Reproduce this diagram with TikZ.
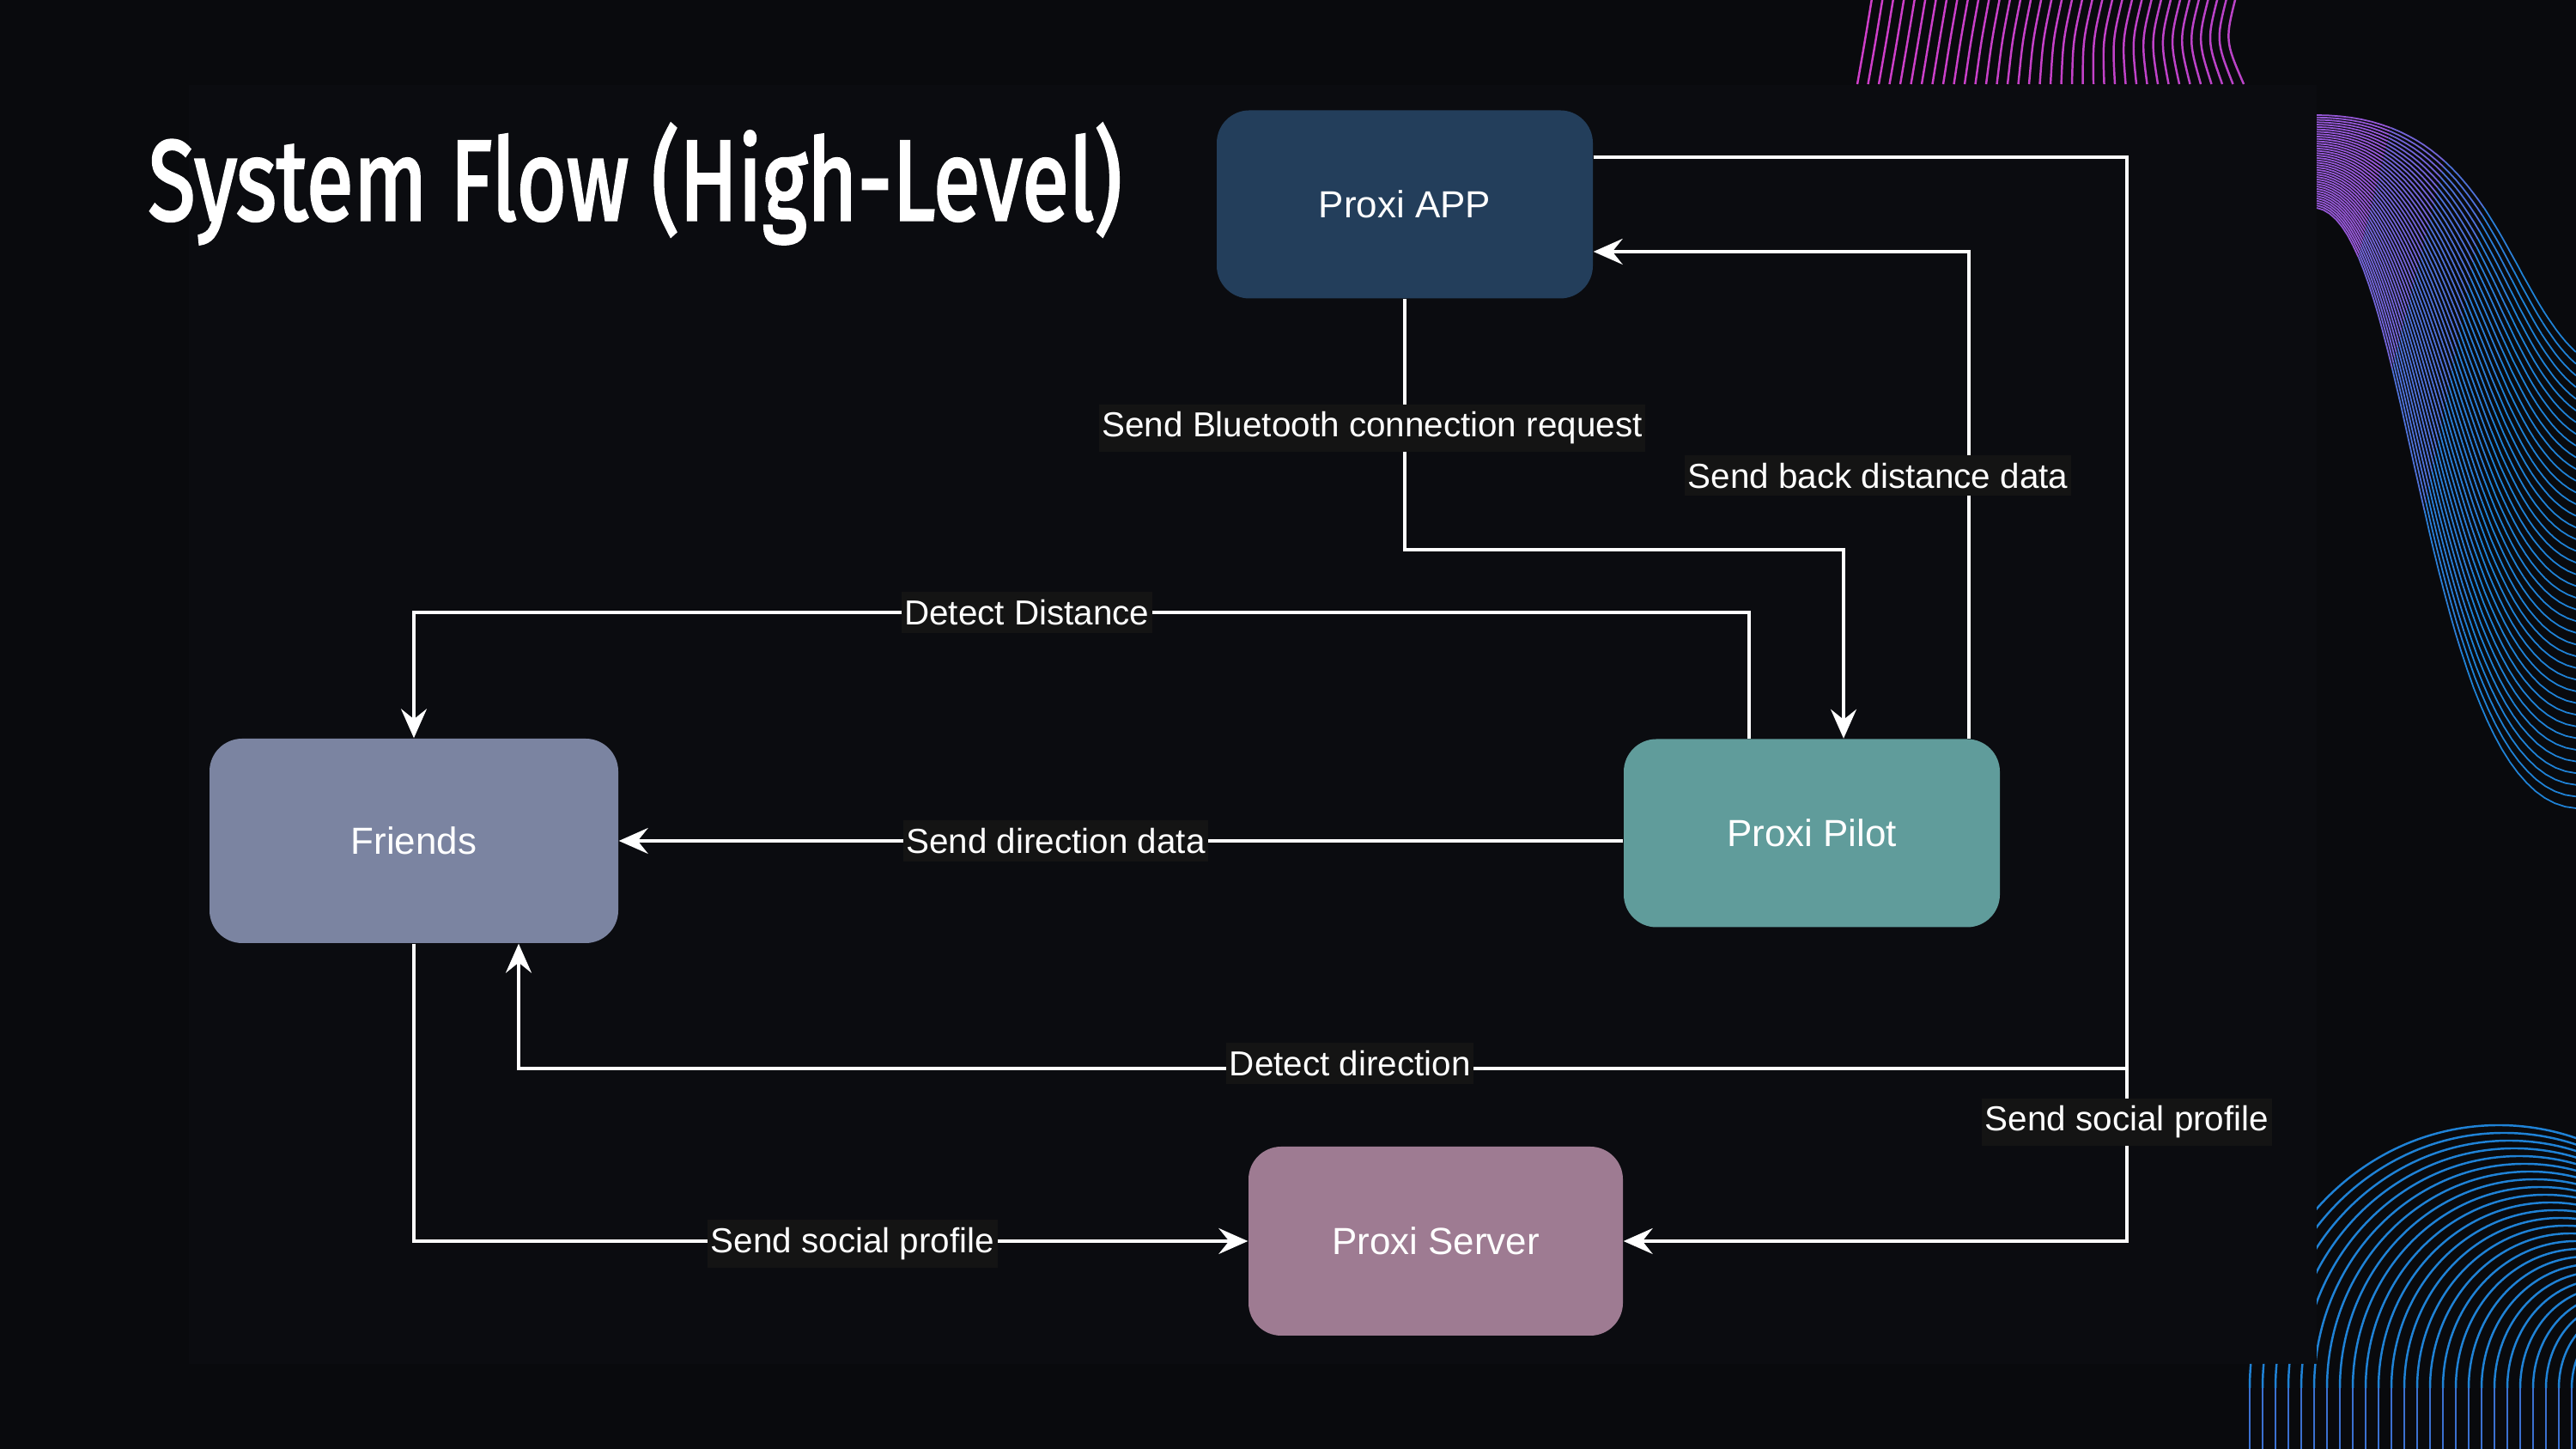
\documentclass[tikz,border=0pt]{standalone}
\usepackage{graphicx}
\usepackage{fontspec}
\setmainfont{Liberation Sans}
\newfontfamily\titlefont[FakeBold=2.5]{Fira Sans}
\usetikzlibrary{arrows.meta,calc}

\definecolor{bgout}{HTML}{090A0D}
\definecolor{bgpanel}{HTML}{0B0C10}
\definecolor{appfill}{HTML}{233E5B}
\definecolor{friendsfill}{HTML}{7B84A1}
\definecolor{pilotfill}{HTML}{609C9B}
\definecolor{serverfill}{HTML}{9E7B92}
\definecolor{lblbg}{HTML}{141414}
\definecolor{magline}{HTML}{CF3FC9}
\definecolor{magdim}{HTML}{A548C6}
\definecolor{ribpurple}{HTML}{9557D6}
\definecolor{ribblue}{HTML}{1F82D6}
\definecolor{arcpurple}{HTML}{5E5BC9}

\tikzset{
  box/.style={rounded corners=0.38cm, minimum width=4.38cm, minimum height=2.19cm,
    text=white, font=\fontsize{12.5}{15}\selectfont, inner sep=0pt},
  flow/.style={draw=white, line width=1pt,
    -{Stealth[length=0.34cm, width=0.30cm, inset=0.12cm]}},
  lbl/.style={fill=lblbg, text=white, font=\fontsize{11.5}{14}\selectfont,
    inner xsep=1pt, inner ysep=2.5pt},
  wave/.style={line width=0.7pt},
  ribbon/.style={line width=0.5pt},
}

\begin{document}
\begin{tikzpicture}
			%%%%% BACKGROUND %%%%%
			\useasboundingbox (0,0) rectangle (30,16.87);
			\fill[bgout] (0,0) rectangle (30,16.87);
			\fill[bgpanel] (2.20,0.99) rectangle (26.98,15.88);
			
			% magenta lines, top
			\foreach \i in {0,...,36}{
				\pgfmathsetmacro\mt{\i/36}
				\pgfmathsetmacro\mxb{21.63+0.125*\i}
				\pgfmathsetmacro\mxt{\mxb+0.18-0.26*\mt^3}
				\pgfmathsetmacro\mxc{(\mxb+\mxt)/2-0.18*\mt^2}
				\pgfmathtruncatemacro\mm{100-50*\mt}
				\draw[wave, color=magline!\mm!magdim] (\mxb,15.89) .. controls (\mxc,16.40) .. (\mxt,16.95);
			}
			
			% ribbon, right
			\foreach \k in {0,...,39}{
				\pgfmathsetmacro\rt{\k/39}
				\pgfmathsetmacro\ray{15.53-1.08*\rt}
				\pgfmathsetmacro\rbx{29.0-0.9*\rt}
				\pgfmathsetmacro\rby{15.53-1.26*\rt}
				\pgfmathsetmacro\rcx{29.15-0.95*\rt}
				\pgfmathsetmacro\rcy{13.57-6.0*\rt}
				\pgfmathsetmacro\rey{12.77-5.31*\rt}
				\foreach \s in {0,...,5}{
					\pgfmathsetmacro\ua{\s/6}
					\pgfmathsetmacro\ub{(\s+1)/6}
					\pgfmathtruncatemacro\mixv{min(100,\s*30)}
					\draw[ribbon, color=ribblue!\mixv!ribpurple] plot[domain=\ua:\ub, samples=8, variable=\u]
						({(1-\u)^3*26.98+3*(1-\u)^2*\u*\rbx+3*(1-\u)*\u^2*\rcx+\u^3*30},
						 {(1-\u)^3*\ray+3*(1-\u)^2*\u*\rby+3*(1-\u)*\u^2*\rcy+\u^3*\rey});
				}
			}
			
			% arcs, bottom right
			\begin{scope}
				\clip (26.10,0) -- (26.10,0.99) -- (26.98,0.99) -- (26.98,4.0) -- (30,4.0) -- (30,0) -- cycle;
				\foreach \i in {0,...,26}{
					\pgfmathsetmacro\acx{29.10+0.06*\i}
					\pgfmathsetmacro\arx{2.90-0.09*\i}
					\pgfmathsetmacro\ary{3.06-0.09*\i}
					\draw[wave, ribblue] ({\acx-\arx},0.71) arc[start angle=180, end angle=0, x radius=\arx, y radius=\ary];
					\draw[wave, ribblue!55!arcpurple] ({\acx-\arx},-0.05) -- ({\acx-\arx},0.71);
				}
			\end{scope}
			
			%%%%% TITLE %%%%%
			\node[anchor=base west, text=white, inner sep=0pt] (title) at (1.72,14.31)
				{\resizebox{11.34cm}{1.12cm}{\titlefont System Flow (High-Level)}};
			
			%%%%% BOXES %%%%%
			\node[box, fill=appfill] (app) at (16.36,14.49) {Proxi APP};
			\node[box, fill=friendsfill, minimum width=4.76cm, minimum height=2.38cm] (friends) at (4.82,7.08) {Friends};
			\node[box, fill=pilotfill] (pilot) at (21.10,7.17) {Proxi Pilot};
			\node[box, fill=serverfill, minimum width=4.36cm, minimum height=2.20cm] (server) at (16.72,2.42) {Proxi Server};
			
			%%%%% CONNECTORS %%%%%
			\coordinate (bt) at (21.47,10.47);
			\coordinate (back) at (22.93,13.94);
			\coordinate (appout) at (24.77,15.04);
			\coordinate (dirturn) at (24.77,4.43);
			\coordinate (dirup) at (6.04,4.43);
			\coordinate (distr) at (20.37,9.74);
			
			\draw[flow] (app.south) |- node[lbl, pos=0.257, xshift=-0.38cm] (lblbt) {Send Bluetooth connection request} (bt) -- (bt |- pilot.north);
			\draw[flow] (back |- pilot.north) -- node[lbl, pos=0.54, xshift=-1.06cm] (lblback) {Send back distance data} (back) -- (back -| app.east);
			
			\draw[flow] (appout -| app.east) -- (appout) -- (dirturn) -- node[lbl, pos=0.483, yshift=0.06cm] (lbldir) {Detect direction} (dirup) -- (dirup |- friends.south);
			\draw[flow] (appout -| app.east) -- (appout) |- node[lbl, pos=0.445] (lblsrv) {Send social profile} (server.east);
			
			\draw[flow] (distr |- pilot.north) -- (distr) -- node[lbl, pos=0.541] (lbldist) {Detect Distance} (distr -| friends.north) -- (friends.north);
			\draw[flow] (pilot.west |- friends.east) -- node[lbl, pos=0.565] (lbldata) {Send direction data} (friends.east);
			\draw[flow] (friends.south) |- node[lbl, pos=0.763, yshift=-0.03cm] (lblprofile) {Send social profile} (server.west);
			
			%%%%% END %%%%%
\end{tikzpicture}
\end{document}
